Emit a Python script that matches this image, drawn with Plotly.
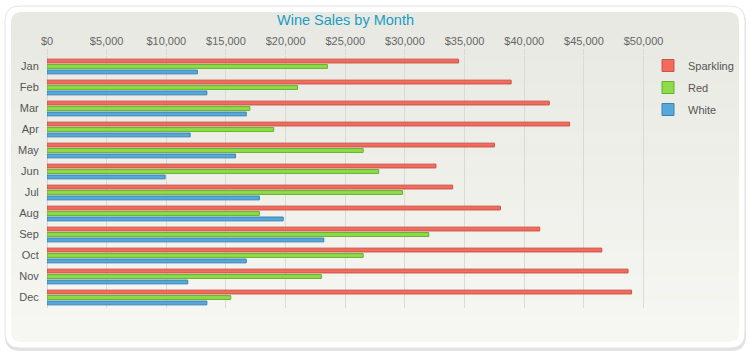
import plotly.graph_objects as go

months = ["Jan", "Feb", "Mar", "Apr", "May", "Jun", "Jul", "Aug", "Sep", "Oct", "Nov", "Dec"]
sparkling = [34500, 38900, 42100, 43800, 37500, 32600, 34000, 38000, 41300, 46500, 48700, 49000]
red = [23500, 21000, 17000, 19000, 26500, 27800, 29800, 17800, 32000, 26500, 23000, 15400]
white = [12600, 13400, 16700, 12000, 15800, 9900, 17800, 19800, 23200, 16700, 11800, 13400]
tick_vals = [0, 5000, 10000, 15000, 20000, 25000, 30000, 35000, 40000, 45000, 50000]
tick_text = ["$0", "$5,000", "$10,000", "$15,000", "$20,000", "$25,000", "$30,000",
             "$35,000", "$40,000", "$45,000", "$50,000"]

W, H = 750, 360
L, R, T, B = 47, 95, 56, 52
PW, PH = W - L - R, H - T - B


def px(x):
    return (x - L) / PW


def py(y):
    return (H - B - y) / PH


def rrect(x0, y0, x1, y1, r):
    pts = [
        ("M", x0 + r, y0), ("L", x1 - r, y0), ("Q", x1, y0, x1, y0 + r),
        ("L", x1, y1 - r), ("Q", x1, y1, x1 - r, y1), ("L", x0 + r, y1),
        ("Q", x0, y1, x0, y1 - r), ("L", x0, y0 + r), ("Q", x0, y0, x0 + r, y0),
    ]
    s = ""
    for p in pts:
        coords = p[1:]
        parts = [f"{px(coords[i]):.5f},{py(coords[i+1]):.5f}" for i in range(0, len(coords), 2)]
        s += p[0] + " " + " ".join(parts) + " "
    return s + "Z"


def mix(c0, c1, t):
    a = [int(c0[i:i + 2], 16) for i in (1, 3, 5)]
    b = [int(c1[i:i + 2], 16) for i in (1, 3, 5)]
    return "#" + "".join(f"{round(a[k] + (b[k] - a[k]) * t):02x}" for k in range(3))


series = [
    ("Sparkling", sparkling, "#f26b5b", "#c9544a"),
    ("Red", red, "#8fdc4a", "#66b02e"),
    ("White", white, "#56a8d8", "#3a82b5"),
]

fig = go.Figure()
for name, vals, fill, line in series:
    fig.add_trace(go.Bar(
        y=months, x=vals, name=name, orientation="h", legendgroup=name,
        marker=dict(color=fill, line=dict(color=line, width=1)),
    ))

TOP_C, BOT_C = "#e9e9e3", "#f6f6f2"
shapes = [
    dict(type="path", xref="paper", yref="paper", layer="below",
         path=rrect(5, 8, 746, 351, 15), fillcolor="#e2e2e2", line=dict(width=0)),
    dict(type="path", xref="paper", yref="paper", layer="below",
         path=rrect(5, 6, 745, 348, 15), fillcolor="#ffffff",
         line=dict(color="#e4e4e4", width=1)),
    dict(type="path", xref="paper", yref="paper", layer="below",
         path=rrect(11, 12, 739, 60, 11), fillcolor=TOP_C, line=dict(width=0)),
    dict(type="path", xref="paper", yref="paper", layer="below",
         path=rrect(11, 294, 739, 342, 11), fillcolor=BOT_C, line=dict(width=0)),
]
n = 40
y_a, y_b = 24, 331
for i in range(n):
    y0 = y_a + (y_b - y_a) * i / n
    y1 = y_a + (y_b - y_a) * (i + 1) / n + 0.6
    shapes.append(dict(type="rect", xref="paper", yref="paper", layer="below",
                       x0=px(11), x1=px(739), y0=py(y1), y1=py(y0),
                       fillcolor=mix(TOP_C, BOT_C, i / (n - 1)), line=dict(width=0)))

fig.update_layout(
    width=W, height=H, autosize=False,
    margin=dict(l=L, r=R, t=T, b=B, autoexpand=False),
    paper_bgcolor="#ffffff",
    plot_bgcolor="rgba(0,0,0,0)",
    barmode="group",
    bargap=0.22,
    bargroupgap=0.3,
    shapes=shapes,
    font=dict(family="Liberation Sans, Arial, sans-serif", size=11, color="#555555"),
    title=dict(text="Wine Sales by Month", x=px(345.5), xref="paper", xanchor="center",
               y=1 - 20 / H, yanchor="middle",
               font=dict(family="Liberation Sans, Arial, sans-serif", size=14.5, color="#1a9dc2")),
    xaxis=dict(
        side="top", range=[0, 50960], tickvals=tick_vals, ticktext=tick_text,
        showgrid=True, gridcolor="#dadad6", gridwidth=1,
        zeroline=True, zerolinecolor="#d4d4d0", zerolinewidth=1,
        ticks="outside", ticklen=6, tickcolor="#dadad6",
        showline=False, fixedrange=True, automargin=False,
        tickfont=dict(size=11, color="#666666"),
    ),
    yaxis=dict(
        autorange="reversed", showgrid=False, zeroline=False,
        ticks="outside", ticklen=5, tickcolor="rgba(0,0,0,0)",
        showline=False, fixedrange=True, automargin=False,
        tickfont=dict(size=11, color="#555555"),
    ),
    legend=dict(
        x=px(648), xanchor="left", y=py(51), yanchor="top",
        traceorder="grouped", bgcolor="rgba(0,0,0,0)",
        font=dict(size=11, color="#555555"), itemwidth=30, tracegroupgap=3,
    ),
    showlegend=True,
)

post = (
    "document.documentElement.style.overflow='hidden';"
    "document.body.style.overflow='hidden';"
    "document.body.style.margin='0';document.body.style.padding='0';"
)
fig.write_html("out.html", config={"displayModeBar": False, "responsive": False},
               post_script=post)
